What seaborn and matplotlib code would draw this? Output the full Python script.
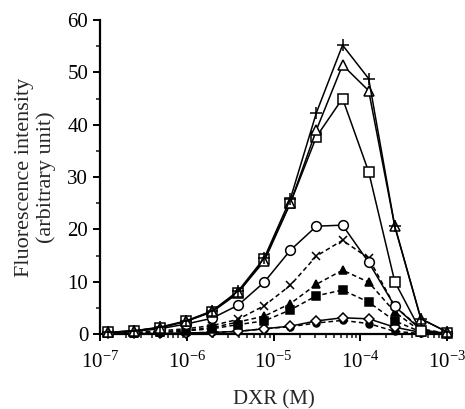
import numpy as np
import matplotlib
matplotlib.use("Agg")
import matplotlib.pyplot as plt
import seaborn as sns
from matplotlib.ticker import LogLocator, MultipleLocator

# DXR concentration (M): two-fold dilution series from 1e-3
dxr = [1e-3 / 2 ** k for k in range(13, -1, -1)]

s_plus = [0.3, 0.6, 1.3, 2.5, 4.4, 8.2, 14.5, 25.8, 42.3, 55.2, 48.8, 20.6, 2.9, 0.4]
s_tri_open = [0.3, 0.6, 1.2, 2.4, 4.3, 8.0, 13.9, 25.0, 39.0, 51.4, 46.5, 20.6, 2.9, 0.4]
s_sq_open = [0.3, 0.6, 1.2, 2.4, 4.2, 7.8, 14.3, 25.0, 37.7, 45.0, 31.0, 10.0, 0.5, 0.1]
s_circ_open = [0.3, 0.5, 1.0, 1.9, 3.0, 5.5, 9.9, 16.0, 20.6, 20.8, 13.7, 5.3, 0.8, 0.1]
s_x = [0.2, 0.3, 0.6, 1.0, 1.6, 2.8, 5.4, 9.3, 14.9, 17.9, 14.5, 5.3, 1.0, 0.1]
s_tri_fill = [0.1, 0.2, 0.4, 0.7, 1.2, 2.3, 3.4, 5.8, 9.5, 12.2, 9.9, 4.2, 0.5, 0.1]
s_sq_fill = [0.1, 0.2, 0.3, 0.6, 1.0, 1.8, 2.5, 4.6, 7.3, 8.4, 6.1, 2.5, 0.4, 0.1]
s_diamond = [0.1, 0.1, 0.1, 0.2, 0.3, 0.5, 1.0, 1.5, 2.5, 3.1, 2.9, 1.3, 0.3, 0.0]
s_circ_fill = [0.1, 0.1, 0.1, 0.2, 0.3, 0.5, 1.0, 1.4, 2.1, 2.6, 2.0, 0.5, 0.1, 0.0]

# (values, marker, dashed?, filled?, markersize)
series = [
    (s_circ_fill, "o", True, True, 5),
    (s_diamond, "D", False, False, 5),
    (s_sq_fill, "s", True, True, 5.5),
    (s_tri_fill, "^", True, True, 6),
    (s_x, "x", True, True, 5.5),
    (s_circ_open, "o", False, False, 7),
    (s_sq_open, "s", False, False, 6.5),
    (s_tri_open, "^", False, False, 7),
    (s_plus, "+", False, True, 8),
]

sns.set_style("ticks")
plt.rcParams["font.family"] = ["Liberation Serif", "DejaVu Serif"]

fig = plt.figure(figsize=(4.65, 4.09), dpi=100)
ax = fig.add_axes([100 / 465, (409 - 334) / 409, (447 - 100) / 465, 314 / 409])

for vals, mk, dashed, filled, ms in series:
    kw = dict(color="black", linewidth=1.1, marker=mk, markersize=ms,
              markerfacecolor="black" if filled else "white",
              markeredgecolor="black", markeredgewidth=1.1, clip_on=False, zorder=3)
    if dashed:
        kw["dashes"] = (3, 2)
    sns.lineplot(x=dxr, y=vals, ax=ax, **kw)

ax.set_xscale("log")
ax.set_xlim(1e-7, 1e-3)
ax.set_ylim(0, 60)
ax.xaxis.set_major_locator(LogLocator(base=10, numticks=10))
ax.xaxis.set_minor_locator(LogLocator(base=10, subs=np.arange(2, 10), numticks=20))
ax.yaxis.set_major_locator(MultipleLocator(10))
ax.yaxis.set_minor_locator(MultipleLocator(5))

sns.despine(ax=ax)
for sp in ("left", "bottom"):
    ax.spines[sp].set_linewidth(1.6)
    ax.spines[sp].set_color("black")

ax.tick_params(axis="both", which="major", direction="out", length=5, width=1.4,
               labelsize=15, colors="black")
ax.tick_params(axis="both", which="minor", direction="out", length=3, width=1.2)
ax.tick_params(axis="x", pad=8)

ax.set_xlabel("DXR (M)", fontsize=15, labelpad=12)
ax.set_ylabel("Fluorescence intensity\n(arbitrary unit)", fontsize=16, labelpad=8)

fig.savefig("out.png", dpi=100)
